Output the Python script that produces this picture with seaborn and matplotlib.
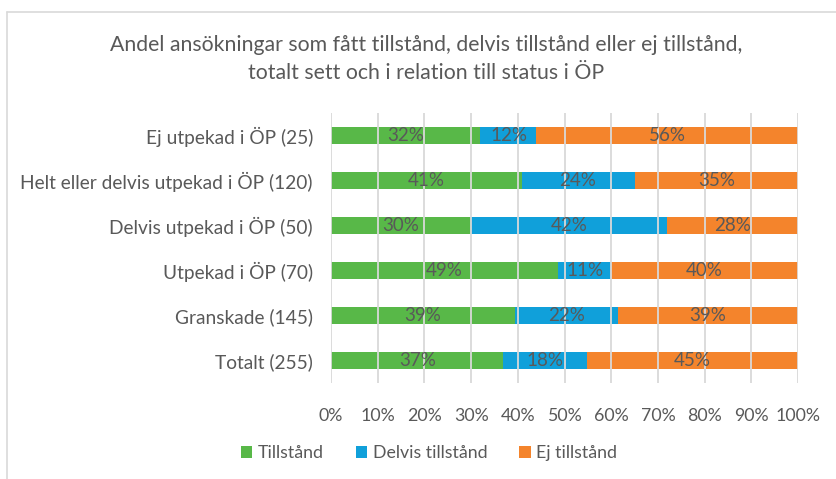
import matplotlib
matplotlib.use("Agg")
import matplotlib.pyplot as plt
from matplotlib.lines import Line2D
from matplotlib.patches import Patch
import seaborn as sns
import pandas as pd
import numpy as np

categories = [
    "Ej utpekad i ÖP (25)",
    "Helt eller delvis utpekad i ÖP (120)",
    "Delvis utpekad i ÖP (50)",
    "Utpekad i ÖP (70)",
    "Granskade (145)",
    "Totalt (255)",
]
tillstand = [32.0, 40.8, 30.0, 48.6, 39.3, 36.9]
delvis = [12.0, 24.2, 42.0, 11.4, 22.1, 18.0]
ej = [56.0, 35.0, 28.0, 40.0, 38.6, 45.1]
series_names = ["Tillstånd", "Delvis tillstånd", "Ej tillstånd"]
colors = ["#58B848", "#10A0DA", "#F4842C"]
x_ticks = [0, 10, 20, 30, 40, 50, 60, 70, 80, 90, 100]

sns.set_theme(style="white")
plt.rcParams["font.family"] = ["Lato", "DejaVu Sans"]
TXT = "#595959"

fig = plt.figure(figsize=(8.37, 4.79), dpi=100)
ax = fig.add_axes([331 / 837, 1 - 383 / 479, (798 - 331) / 837, 270 / 479])

series = [tillstand, delvis, ej]
left = np.zeros(len(categories))
for name, vals, col in zip(series_names, series, colors):
    df = pd.DataFrame({"cat": categories, "val": vals})
    sns.barplot(data=df, y="cat", x="val", orient="h", color=col, width=0.39,
                left=left.copy(), ax=ax, saturation=1, linewidth=0)
    cont = ax.containers[-1]
    labels = [f"{round(v):.0f}%" for v in vals]
    ax.bar_label(cont, labels=labels, label_type="center", color=TXT,
                 fontsize=13.5, zorder=4)
    left = left + np.array(vals)

ax.set_xlim(0, 100)
ax.set_ylim(5.5, -0.5)
ax.set_xticks(x_ticks)
ax.set_xticklabels([f"{t}%" for t in x_ticks], color=TXT, fontsize=12.8)
ax.tick_params(axis="x", length=0, pad=18)
ax.tick_params(axis="y", length=0, pad=13, labelsize=13.8, labelcolor=TXT)
ax.set_xlabel("")
ax.set_ylabel("")
ax.set_axisbelow(False)
ax.grid(axis="x", color="#D9D9D9", linewidth=1.3, zorder=2.5)
ax.grid(axis="y", visible=False)
for s in ax.spines.values():
    s.set_visible(False)

fig.text(426 / 837, 1 - 45 / 479, "Andel ansökningar som fått tillstånd, delvis tillstånd eller ej tillstånd,",
         ha="center", va="center", fontsize=15.3, color=TXT)
fig.text(426 / 837, 1 - 73 / 479, "totalt sett och i relation till status i ÖP",
         ha="center", va="center", fontsize=15.3, color=TXT)

handles = [Patch(facecolor=c, edgecolor="none") for c in colors]
fig.legend(handles, series_names, loc="center", bbox_to_anchor=(429 / 837, 1 - 453 / 479),
           ncol=3, frameon=False, fontsize=12.8, labelcolor=TXT,
           handlelength=0.65, handleheight=0.65, handletextpad=0.3, columnspacing=1.8)

fig.add_artist(Line2D([7.5 / 837, 7.5 / 837], [0, 1 - 12 / 479], transform=fig.transFigure,
                      color="#D9D9D9", linewidth=1.2))
fig.add_artist(Line2D([7.5 / 837, 1], [1 - 12 / 479, 1 - 12 / 479], transform=fig.transFigure,
                      color="#D9D9D9", linewidth=1.2))

fig.savefig("out.png", dpi=100, facecolor="white")
